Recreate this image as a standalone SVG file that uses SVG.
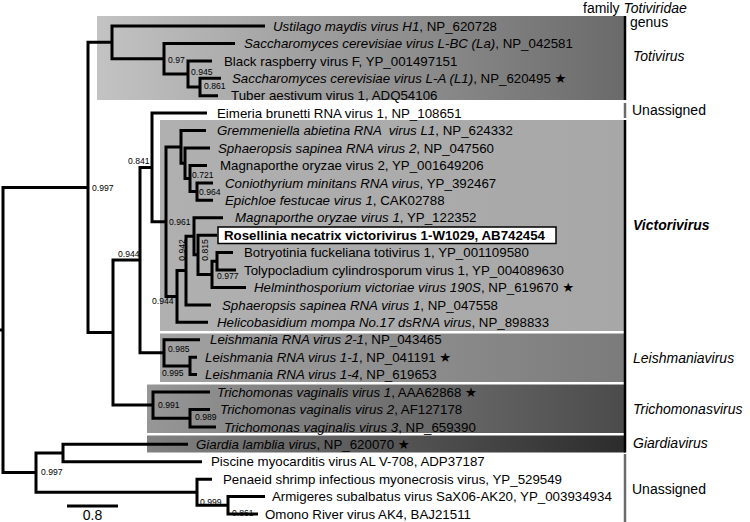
<svg xmlns="http://www.w3.org/2000/svg" width="750" height="522" viewBox="0 0 750 522">
<style>
text{font-family:'Liberation Sans',Arial,'DejaVu Sans',sans-serif;fill:#000}
.lf{font-size:13.3px}
.it{font-style:italic}
.bs{font-size:8.6px}
.gl{font-size:14px}
.tr{fill:none;stroke:#000;stroke-width:3;stroke-linejoin:miter}
.bar{stroke:#000;stroke-width:2.5}
.barg{stroke:#6a6a6a;stroke-width:2.5}
</style>
<defs>
<linearGradient id="gToti" x1="0" y1="0" x2="1" y2="0"><stop offset="0" stop-color="#c3c3c3"/><stop offset="1" stop-color="#6a6a6a"/></linearGradient>
<linearGradient id="gVict" x1="0" y1="0" x2="1" y2="0"><stop offset="0" stop-color="#b0b0b0"/><stop offset="1" stop-color="#a7a7a7"/></linearGradient>
<linearGradient id="gLeish" x1="0" y1="0" x2="1" y2="0"><stop offset="0" stop-color="#a2a2a2"/><stop offset="1" stop-color="#7b7b7b"/></linearGradient>
<linearGradient id="gTricho" x1="0" y1="0" x2="1" y2="0"><stop offset="0" stop-color="#979797"/><stop offset="1" stop-color="#4b4b4b"/></linearGradient>
<linearGradient id="gGiar" x1="0" y1="0" x2="1" y2="0"><stop offset="0" stop-color="#828282"/><stop offset="1" stop-color="#2c2c2c"/></linearGradient>
</defs>
<rect width="750" height="522" fill="#fff"/>

<g id="clade-boxes">
<rect id="box-totivirus" x="97" y="16" width="528" height="84" fill="url(#gToti)"/>
<rect id="box-victorivirus" x="160" y="120" width="465" height="211" fill="url(#gVict)"/>
<rect id="box-leishmaniavirus" x="160" y="333.5" width="465" height="48.5" fill="url(#gLeish)"/>
<rect id="box-trichomonasvirus" x="147" y="384.5" width="478" height="48.5" fill="url(#gTricho)"/>
<rect id="box-giardiavirus" x="147" y="435.5" width="478" height="17" fill="url(#gGiar)"/>
</g>

<g id="genus-bars">
<line class="bar" x1="625" y1="16" x2="625" y2="100"/>
<line class="barg" x1="625" y1="103" x2="625" y2="118"/>
<line class="bar" x1="625" y1="120" x2="625" y2="452.5"/>
<line class="barg" x1="625" y1="454" x2="625" y2="522"/>
</g>

<g id="connectors">
<path class="tr" d="M0 330H3"/>
<path class="tr" d="M88 187.5H3V472.6H36"/>
<path class="tr" d="M112 42.3H88V332.6H113"/>
<path class="tr" d="M265 26H112V58.7H164"/>
<path class="tr" d="M235 43.4H164V74H188"/>
<path class="tr" d="M212 60.9H188V87H200"/>
<path class="tr" d="M221 78.3H200V95.7H218"/>
<path class="tr" d="M140 260.1H113V405.1H153"/>
<path class="tr" d="M152 167.4H140V352.8H164"/>
<path class="tr" d="M207 113.1H152V221.7H166"/>
<path class="tr" d="M181 147H166V296.4H177"/>
<path class="tr" d="M206 130.6H181V163.3H185"/>
<path class="tr" d="M210 148H185V178.5H190"/>
<path class="tr" d="M207 165.4H190V191.6H197"/>
<path class="tr" d="M213 182.9H197V200.3H213"/>
<path class="tr" d="M186 270.5H177V322.3H208"/>
<path class="tr" d="M194 236.2H186V304.9H211"/>
<path class="tr" d="M223 217.7H194V254.8H198"/>
<path class="tr" d="M217 235.2H198V274.4H212"/>
<path class="tr" d="M217 261.3H212V287.4H246"/>
<path class="tr" d="M233 252.6H217V270H236"/>
<path class="tr" d="M200 339.7H164V365.9H190"/>
<path class="tr" d="M197 357.2H190V374.6H197"/>
<path class="tr" d="M210 392H153V418.2H190"/>
<path class="tr" d="M210 409.5H190V426.9H216"/>
<path class="tr" d="M63 453H36V492.2H197"/>
<path class="tr" d="M188 444.3H63V461.7H202"/>
<path class="tr" d="M212 479.2H197V505.3H228"/>
<path class="tr" d="M265 496.6H228V514H258"/>
</g>

<g id="support-values" class="bs">
<text x="92" y="191">0.997</text>
<text x="168" y="63">0.97</text>
<text x="191" y="75">0.945</text>
<text x="204" y="89">0.861</text>
<text x="128" y="164">0.841</text>
<text x="192" y="178">0.721</text>
<text x="199" y="195">0.964</text>
<text x="169" y="225">0.961</text>
<text x="118" y="257">0.944</text>
<text transform="translate(184.5 250) rotate(-90)" text-anchor="middle">0.942</text>
<text transform="translate(208 250) rotate(-90)" text-anchor="middle">0.815</text>
<text x="217" y="279">0.977</text>
<text x="152" y="304">0.944</text>
<text x="168" y="352">0.985</text>
<text x="162" y="376">0.995</text>
<text x="158" y="408">0.991</text>
<text x="195" y="420">0.989</text>
<text x="41" y="475">0.997</text>
<text x="200" y="505">0.999</text>
<text x="232" y="516">0.861</text>
</g>

<g id="leaves" class="lf">
<g id="n-ustilago"><text x="273" y="30.7"><tspan class="it">Ustilago maydis virus H1</tspan>, NP_620728</text></g>
<g id="n-scv-lbc"><text x="244" y="48.1"><tspan class="it">Saccharomyces cerevisiae virus L-BC (La)</tspan>, NP_042581</text></g>
<g id="n-brvf"><text x="224" y="65.6">Black raspberry virus F, YP_001497151</text></g>
<g id="n-scv-la"><text x="232" y="83"><tspan class="it">Saccharomyces cerevisiae virus L-A (L1)</tspan>, NP_620495 ★</text></g>
<g id="n-tuber"><text x="231" y="100.4">Tuber aestivum virus 1, ADQ54106</text></g>
<g id="n-eimeria"><text x="217" y="117.8">Eimeria brunetti RNA virus 1, NP_108651</text></g>
<g id="n-gremmeniella"><text x="217" y="135.3" xml:space="preserve"><tspan class="it">Gremmeniella abietina RNA  virus L1</tspan>, NP_624332</text></g>
<g id="n-ssrv2"><text x="218" y="152.7"><tspan class="it">Sphaeropsis sapinea RNA virus 2</tspan>, NP_047560</text></g>
<g id="n-mov2"><text x="220" y="170.1">Magnaporthe oryzae virus 2, YP_001649206</text></g>
<g id="n-coniothyrium"><text x="225" y="187.6"><tspan class="it">Coniothyrium minitans RNA virus</tspan>, YP_392467</text></g>
<g id="n-epichloe"><text x="225" y="205"><tspan class="it">Epichloe festucae virus 1</tspan>, CAK02788</text></g>
<g id="n-mov1"><text x="235" y="222.4"><tspan class="it">Magnaporthe oryzae virus 1</tspan>, YP_122352</text></g>
<g id="n-rosellinia"><rect x="218" y="227" width="338" height="16.5" fill="#fff" stroke="#000" stroke-width="1.5"/><text x="224" y="239.9" font-weight="bold">Rosellinia necatrix victorivirus 1-W1029, AB742454</text></g>
<g id="n-botryotinia"><text x="244" y="257.3">Botryotinia fuckeliana totivirus 1, YP_001109580</text></g>
<g id="n-tolypocladium"><text x="244" y="274.7">Tolypocladium cylindrosporum virus 1, YP_004089630</text></g>
<g id="n-helminthosporium"><text x="254" y="292.1"><tspan class="it">Helminthosporium victoriae virus 190S</tspan>, NP_619670 ★</text></g>
<g id="n-ssrv1"><text x="222" y="309.6"><tspan class="it">Sphaeropsis sapinea RNA virus 1</tspan>, NP_047558</text></g>
<g id="n-helicobasidium"><text x="217" y="327"><tspan class="it">Helicobasidium mompa No.17 dsRNA virus</tspan>, NP_898833</text></g>
<g id="n-lrv2-1"><text x="210" y="344.4"><tspan class="it">Leishmania RNA virus 2-1</tspan>, NP_043465</text></g>
<g id="n-lrv1-1"><text x="205" y="361.9"><tspan class="it">Leishmania RNA virus 1-1</tspan>, NP_041191 ★</text></g>
<g id="n-lrv1-4"><text x="205" y="379.3"><tspan class="it">Leishmania RNA virus 1-4</tspan>, NP_619653</text></g>
<g id="n-tvv1"><text x="217" y="396.7"><tspan class="it">Trichomonas vaginalis virus 1</tspan>, AAA62868 ★</text></g>
<g id="n-tvv2"><text x="220" y="414.2"><tspan class="it">Trichomonas vaginalis virus 2</tspan>, AF127178</text></g>
<g id="n-tvv3"><text x="224" y="431.6"><tspan class="it">Trichomonas vaginalis virus 3</tspan>, NP_659390</text></g>
<g id="n-giardia"><text x="196" y="449"><tspan class="it">Giardia lamblia virus</tspan>, NP_620070 ★</text></g>
<g id="n-piscine"><text x="211" y="466.4">Piscine myocarditis virus AL V-708, ADP37187</text></g>
<g id="n-penaeid"><text x="223" y="483.9">Penaeid shrimp infectious myonecrosis virus, YP_529549</text></g>
<g id="n-armigeres"><text x="272" y="501.3">Armigeres subalbatus virus SaX06-AK20, YP_003934934</text></g>
<g id="n-omono"><text x="265" y="518.7">Omono River virus AK4, BAJ21511</text></g>
</g>

<g id="genus-labels" class="gl">
<text x="583" y="12.5">family <tspan class="it">Totiviridae</tspan></text>
<text x="630" y="27">genus</text>
<text x="633" y="61" class="it">Totivirus</text>
<text x="632" y="115">Unassigned</text>
<text x="633" y="230" class="it" font-weight="bold">Victorivirus</text>
<text x="633" y="363" class="it">Leishmaniavirus</text>
<text x="633" y="414" class="it">Trichomonasvirus</text>
<text x="633" y="448" class="it">Giardiavirus</text>
<text x="632" y="494">Unassigned</text>
</g>

<g id="scale-bar">
<line x1="67" y1="506" x2="118" y2="506" stroke="#000" stroke-width="3"/>
<text x="92.5" y="520" text-anchor="middle" font-size="14">0.8</text>
</g>
</svg>
